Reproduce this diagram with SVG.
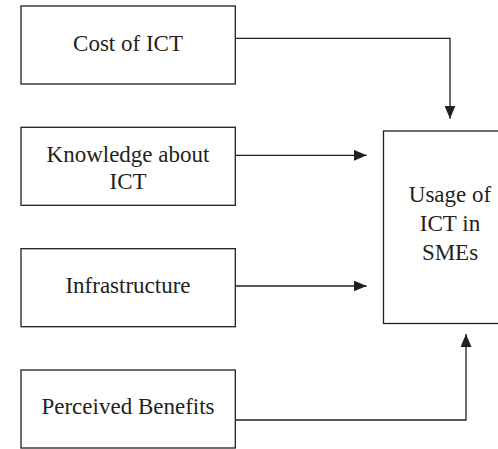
<svg xmlns="http://www.w3.org/2000/svg" width="498" height="449" viewBox="0 0 498 449">
  <style>
    .box { fill: #ffffff; stroke: #231f20; stroke-width: 1.3; }
    .label { font-size: 23px; fill: #231f20; text-anchor: middle; }
    .wire { fill: none; stroke: #231f20; stroke-width: 1.3; }
  </style>
  <defs>
    <marker id="arrow" viewBox="0 0 13 11" refX="13" refY="5.5" markerWidth="13" markerHeight="11" markerUnits="userSpaceOnUse" orient="auto">
      <path d="M0,0 L13,5.5 L0,11 Z" fill="#231f20"/>
    </marker>
  </defs>
  <rect width="498" height="449" fill="#ffffff"/>

  <g id="nodes" font-family="'Liberation Serif', 'Times New Roman', serif">
    <g id="cost">
      <rect class="box" x="21" y="6" width="214.3" height="78"/>
      <text class="label" x="128" y="50.5">Cost of ICT</text>
    </g>

    <g id="knowledge">
      <rect class="box" x="21" y="127.3" width="214.3" height="78"/>
      <text class="label" x="128" y="161.5">Knowledge about</text>
      <text class="label" x="128" y="189">ICT</text>
    </g>

    <g id="infrastructure">
      <rect class="box" x="21" y="248.7" width="214.3" height="78"/>
      <text class="label" x="128" y="293">Infrastructure</text>
    </g>

    <g id="benefits">
      <rect class="box" x="21" y="370" width="214.3" height="78"/>
      <text class="label" x="128" y="413.5">Perceived Benefits</text>
    </g>

    <g id="usage">
      <rect class="box" x="383.5" y="131" width="134" height="192.5"/>
      <text class="label" x="450" y="201.7">Usage of</text>
      <text class="label" x="450" y="230.7">ICT in</text>
      <text class="label" x="450" y="259.5">SMEs</text>
    </g>
  </g>

  <g id="connectors">
    <polyline class="wire" points="235.3,38.3 450,38.3 450,118.7" marker-end="url(#arrow)"/>
    <line class="wire" x1="235.3" y1="155.3" x2="366.7" y2="155.3" marker-end="url(#arrow)"/>
    <line class="wire" x1="235.3" y1="286" x2="366.7" y2="286" marker-end="url(#arrow)"/>
    <polyline class="wire" points="235.3,420 466,420 466,334" marker-end="url(#arrow)"/>
  </g>
</svg>
